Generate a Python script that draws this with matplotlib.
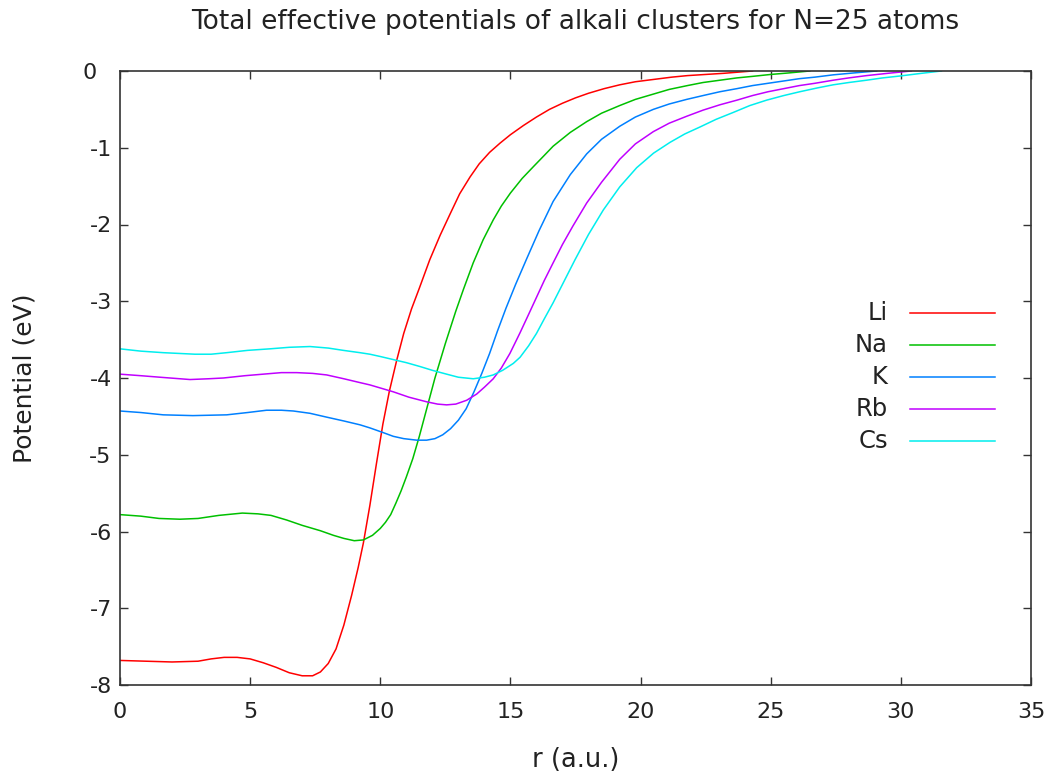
import matplotlib
matplotlib.use("Agg")
import matplotlib.pyplot as plt

# Radial coordinate (a.u.) and total effective potential (eV) per alkali species
r_li = [0, 1, 2, 3, 3.5, 4, 4.5, 5, 5.5, 6, 6.5, 7.0, 7.4, 7.7, 8.0, 8.3, 8.6,
        8.9, 9.15, 9.35, 9.6, 9.85, 10.1, 10.35, 10.63, 10.9, 11.2, 11.5, 11.9,
        12.3, 12.7, 13.05, 13.45, 13.8, 14.2, 14.6, 15.0, 15.5, 16.0, 16.5,
        17.0, 17.5, 18.0, 18.6, 19.2, 19.8, 20.5, 21.2, 21.8, 22.5, 23.2, 24.3]
v_li = [-7.68, -7.69, -7.70, -7.69, -7.66, -7.64, -7.64, -7.66, -7.71, -7.77,
        -7.84, -7.88, -7.88, -7.83, -7.72, -7.53, -7.22, -6.83, -6.47, -6.15,
        -5.66, -5.12, -4.60, -4.17, -3.77, -3.42, -3.10, -2.83, -2.46, -2.14,
        -1.85, -1.60, -1.38, -1.21, -1.06, -0.94, -0.83, -0.71, -0.60, -0.50,
        -0.42, -0.35, -0.29, -0.23, -0.18, -0.14, -0.11, -0.08, -0.06, -0.045,
        -0.03, 0.0]

r_na = [0, 0.8, 1.5, 2.3, 3.0, 3.8, 4.7, 5.3, 5.8, 6.4, 7.0, 7.7, 8.2, 8.6,
        9.0, 9.35, 9.7, 10.0, 10.2, 10.4, 10.6, 10.8, 11.0, 11.25, 11.5, 11.8,
        12.1, 12.5, 12.9, 13.2, 13.57, 13.95, 14.34, 14.65, 15.0, 15.45, 15.9,
        16.3, 16.64, 17.3, 17.93, 18.5, 19.2, 19.8, 20.5, 21.1, 21.8, 22.4,
        23.05, 23.7, 24.3, 25.0, 25.7, 26.5]
v_na = [-5.78, -5.80, -5.83, -5.84, -5.83, -5.79, -5.76, -5.77, -5.79, -5.85,
        -5.92, -5.99, -6.05, -6.09, -6.12, -6.11, -6.05, -5.96, -5.88, -5.78,
        -5.63, -5.47, -5.29, -5.05, -4.76, -4.38, -4.00, -3.55, -3.13, -2.84,
        -2.50, -2.20, -1.94, -1.76, -1.59, -1.40, -1.24, -1.10, -0.98, -0.80,
        -0.66, -0.55, -0.45, -0.37, -0.30, -0.24, -0.19, -0.15, -0.12, -0.09,
        -0.07, -0.045, -0.025, 0.0]

r_k = [0, 0.8, 1.66, 2.8, 4.1, 4.9, 5.63, 6.2, 6.66, 7.3, 7.94, 8.6, 9.22, 9.6,
       10.1, 10.5, 10.9, 11.4, 11.78, 12.1, 12.4, 12.7, 13.0, 13.3, 13.6, 13.9,
       14.2, 14.5, 14.83, 15.2, 15.62, 16.1, 16.64, 17.3, 17.93, 18.5, 19.2,
       19.8, 20.49, 21.1, 21.77, 22.4, 23.05, 23.7, 24.3, 24.9, 25.5, 26.1,
       26.7, 27.4, 28.2, 29.07]
v_k = [-4.43, -4.45, -4.48, -4.49, -4.48, -4.45, -4.42, -4.42, -4.43, -4.46,
       -4.51, -4.56, -4.61, -4.65, -4.71, -4.76, -4.79, -4.81, -4.81, -4.79,
       -4.74, -4.66, -4.55, -4.40, -4.18, -3.94, -3.68, -3.39, -3.09, -2.78,
       -2.45, -2.08, -1.70, -1.35, -1.08, -0.89, -0.72, -0.60, -0.50, -0.43,
       -0.37, -0.32, -0.27, -0.23, -0.19, -0.16, -0.13, -0.10, -0.08, -0.05,
       -0.025, 0.0]

r_rb = [0, 0.8, 1.54, 2.69, 3.4, 3.97, 4.8, 5.5, 6.2, 6.79, 7.4, 7.94, 8.6,
        9.22, 9.6, 10.1, 10.5, 11.1, 11.78, 12.2, 12.55, 12.9, 13.32, 13.7,
        14.0, 14.34, 14.65, 14.98, 15.37, 15.7, 16.0, 16.3, 16.64, 17.0, 17.4,
        17.93, 18.5, 19.2, 19.8, 20.49, 21.1, 21.77, 22.4, 23.05, 23.7, 24.3,
        24.9, 25.5, 26.1, 26.7, 27.4, 28.0, 28.68, 29.5, 30.4]
v_rb = [-3.95, -3.97, -3.99, -4.02, -4.01, -4.00, -3.97, -3.95, -3.93, -3.93,
        -3.94, -3.96, -4.01, -4.06, -4.09, -4.14, -4.18, -4.25, -4.31, -4.34,
        -4.35, -4.34, -4.29, -4.21, -4.12, -4.01, -3.87, -3.68, -3.41, -3.17,
        -2.95, -2.73, -2.50, -2.26, -2.02, -1.72, -1.45, -1.15, -0.95, -0.79,
        -0.68, -0.59, -0.51, -0.44, -0.38, -0.32, -0.27, -0.23, -0.19, -0.16,
        -0.12, -0.09, -0.06, -0.03, 0.0]

r_cs = [0, 0.8, 1.66, 2.88, 3.5, 4.1, 4.9, 5.76, 6.5, 7.3, 8.0, 8.58, 9.22,
        9.6, 10.0, 10.5, 11.0, 11.52, 12.0, 12.55, 13.0, 13.57, 14.0, 14.34,
        14.7, 15.11, 15.37, 15.7, 16.0, 16.3, 16.64, 17.0, 17.48, 18.0, 18.57,
        19.2, 19.85, 20.5, 21.13, 21.7, 22.28, 22.9, 23.56, 24.2, 24.84, 25.5,
        26.12, 26.8, 27.4, 28.0, 28.68, 29.3, 29.97, 30.8, 31.56]
v_cs = [-3.62, -3.65, -3.67, -3.69, -3.69, -3.67, -3.64, -3.62, -3.60, -3.59,
        -3.61, -3.64, -3.67, -3.69, -3.72, -3.76, -3.80, -3.85, -3.90, -3.95,
        -3.99, -4.01, -3.99, -3.96, -3.90, -3.81, -3.73, -3.58, -3.42, -3.23,
        -3.02, -2.78, -2.46, -2.13, -1.81, -1.51, -1.26, -1.07, -0.93, -0.82,
        -0.73, -0.63, -0.54, -0.45, -0.38, -0.32, -0.27, -0.22, -0.18, -0.15,
        -0.12, -0.09, -0.065, -0.03, 0.0]

labels = ["Li", "Na", "K", "Rb", "Cs"]
colors = ["#ff0000", "#00c000", "#0080ff", "#c000ff", "#00eeee"]
series = [(r_li, v_li), (r_na, v_na), (r_k, v_k), (r_rb, v_rb), (r_cs, v_cs)]

x_ticks = [0, 5, 10, 15, 20, 25, 30, 35]
y_ticks = [0, -1, -2, -3, -4, -5, -6, -7, -8]
# non-negative y labels keep a digit-wide blank where the sign would sit
y_tick_labels = [str(t) if t < 0 else f"{t}\u2007" for t in y_ticks]

plt.rcParams["font.family"] = ["DejaVu Sans"]
text_color = "#222222"

fig = plt.figure(figsize=(10.53, 7.80), dpi=100)
ax = fig.add_axes([120 / 1053, 1 - 685 / 780, (1031 - 120) / 1053, (685 - 71) / 780])

for (r, v), c in zip(series, colors):
    ax.plot(r, v, color=c, lw=1.1, solid_joinstyle="round")

ax.set_xlim(0, 35)
ax.set_ylim(-8, 0)
ax.set_xticks(x_ticks)
ax.set_yticks(y_ticks)
ax.set_xticklabels([str(t) for t in x_ticks])
ax.set_yticklabels(y_tick_labels)
ax.tick_params(direction="in", length=6, width=1.0, top=True, right=True,
               labelsize=16, colors="#333333", labelcolor=text_color)
ax.tick_params(axis="x", pad=12)
ax.tick_params(axis="y", pad=6)
for s in ax.spines.values():
    s.set_linewidth(1.2)
    s.set_color("#333333")

ax.set_xlabel("r (a.u.)", fontsize=18.5, color=text_color, labelpad=18)
ax.set_ylabel("Potential (eV)", fontsize=18, color=text_color, labelpad=34)
ax.set_title("Total effective potentials of alkali clusters for N=25 atoms",
             fontsize=19, color=text_color, pad=30)

# Key: right-aligned names with a line sample to their right
row0 = 1 - (313 - 71) / 614
step = 32 / 614
x_text = (888 - 120) / 911
x_l0 = (910 - 120) / 911
x_l1 = (995 - 120) / 911
for i, (name, c) in enumerate(zip(labels, colors)):
    y = row0 - i * step
    ax.plot([x_l0, x_l1], [y, y], color=c, lw=1.1, transform=ax.transAxes)
    ax.text(x_text, y, name, ha="right", va="center", fontsize=17.5,
            color=text_color, transform=ax.transAxes)

fig.savefig("out.png", dpi=100)
